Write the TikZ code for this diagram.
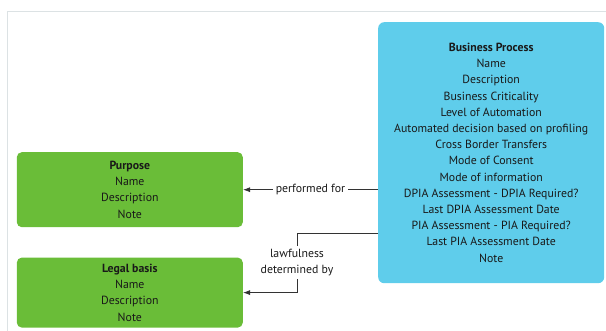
\documentclass[tikz,border=0pt]{standalone}
\usepackage{fontspec}
\setmainfont{PT Sans}
\usetikzlibrary{arrows.meta,positioning}
\definecolor{bpblue}{HTML}{5FCDEB}
\definecolor{entgreen}{HTML}{6ABD38}
\definecolor{framegray}{HTML}{DCE2E4}
\definecolor{inkgray}{HTML}{333333}
\tikzset{
  entity/.style = {rounded corners=5pt, minimum width=226pt, inner sep=0pt,
                   align=center, text=black!90,
                   font=\fontsize{11.8pt}{16.2pt}\selectfont},
  process/.style= {entity, fill=bpblue, rounded corners=6pt, minimum height=261pt},
  green/.style  = {entity, fill=entgreen},
  ar/.style     = {-{Latex[length=7pt,width=5pt]}, draw=inkgray, line width=0.8pt},
  lbl/.style    = {fill=white, align=center, inner sep=3pt, text=black!90,
                   font=\fontsize{11.8pt}{16.2pt}\selectfont}
}
\begin{document}
\begin{tikzpicture}[x=1pt,y=-1pt]
  \useasboundingbox (0,0) rectangle (606,331);
  % frame of the canvas
  \draw[framegray, line width=1.8pt] (610,11.5) -- (7.5,11.5) -- (7.5,335);

  \node[process, anchor=north west] (bp) at (378,22)
    {\textbf{Business Process}\\Name\\Description\\Business Criticality\\
     Level of Automation\\Automated decision based on profiling\\
     Cross Border Transfers\\Mode of Consent\\Mode of information\\
     DPIA Assessment - DPIA Required?\\Last DPIA Assessment Date\\
     PIA Assessment - PIA Required?\\Last PIA Assessment Date\\Note};
  \node[green, minimum height=75pt, below left=130pt and 135pt of bp.north west]
    (purpose) {\textbf{Purpose}\\Name\\Description\\Note};
  \node[green, minimum height=70pt, below=30pt of purpose]
    (legal) {\textbf{Legal basis}\\Name\\Description\\Note};

  \coordinate (bend) at (297,233);
  \draw[ar] (bp.west |- purpose) -- node[lbl] {performed for} (purpose);
  \draw[ar] (bp.west |- bend) -- (bend)
    -- node[lbl] {lawfulness\\determined by} (bend |- legal) -- (legal);
\end{tikzpicture}
\end{document}
